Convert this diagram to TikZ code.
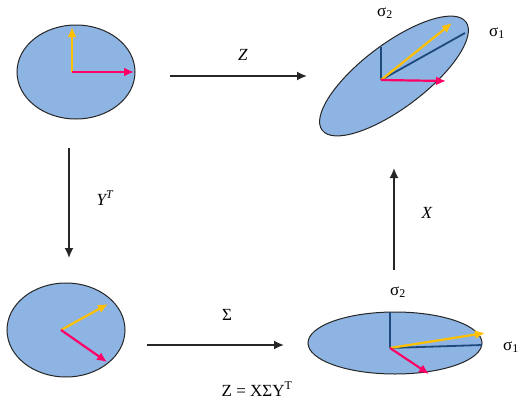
\documentclass[tikz,border=0pt]{standalone}
\usepackage{fontspec}
\setmainfont{Liberation Serif}
\usetikzlibrary{shapes.geometric, arrows.meta, positioning}

\definecolor{discblue}{RGB}{141,180,226}
\definecolor{vyellow}{RGB}{255,192,0}
\definecolor{vpink}{RGB}{255,0,102}
\definecolor{axblue}{RGB}{31,73,125}

\begin{document}
\begin{tikzpicture}[
    x=1pt, y=-1pt,
    disc/.style = {ellipse, draw=black!85, fill=discblue, line width=1pt, inner sep=0pt},
    map/.style = {-{Latex[length=10pt,width=9pt]}, line width=1.7pt, draw=black!85},
    vecy/.style = {-{Latex[length=10pt,width=9pt]}, line width=2.2pt, draw=vyellow},
    vecp/.style = {-{Latex[length=10pt,width=9pt]}, line width=2.2pt, draw=vpink},
    axis/.style = {line width=1.8pt, draw=axblue},
    lbl/.style = {font=\fontsize{17}{19}\selectfont, inner sep=1pt}
]
\useasboundingbox (0,0) rectangle (520,402);

% The four ellipses
\node[disc, minimum width=118pt, minimum height=94pt] (start) at (76,72) {};
\node[disc, minimum width=180pt, minimum height=64pt, rotate=37] (final) at (394,76) {};
\node[disc, minimum width=118pt, minimum height=94pt] (rot) at (66,330) {};
\node[disc, minimum width=174pt, minimum height=62pt] (stretch) at (395,343) {};

% Origins of the vectors
\coordinate (o1) at (72,72);
\coordinate (o2) at (381,80);
\coordinate (o3) at (61,330);
\coordinate (o4) at (390,348);

% Vectors in the unit disc
\draw[vecy] (o1) -- (72,27);
\draw[vecp] (o1) -- (134,72);

% Vectors after Y^T
\draw[vecy] (o3) -- (108,304);
\draw[vecp] (o3) -- (107,362);

% Vectors after Sigma, with the axes
\draw[axis] (o4) -- (482,345);
\draw[axis] (o4) -- (390,312);
\draw[vecy] (o4) -- (485,333);
\draw[vecp] (o4) -- (429,374);
\node[lbl] (s2b) at (398,292) {σ\textsubscript{2}};
\node[lbl] (s1b) at (511,347) {σ\textsubscript{1}};

% Vectors after X, with the axes
\draw[axis] (o2) -- (465,33);
\draw[axis] (o2) -- (381,47);
\draw[vecy] (o2) -- (452,23);
\draw[vecp] (o2) -- (446,81);
\node[lbl] (s2t) at (385,13) {σ\textsubscript{2}};
\node[lbl] (s1t) at (497,33) {σ\textsubscript{1}};

% Maps between the pictures
\coordinate (zfrom) at (170,76);
\coordinate (zto) at (307,76);
\coordinate (yfrom) at (69,148);
\coordinate (yto) at (69,258);
\coordinate (sfrom) at (147,345);
\coordinate (sto) at (284,345);
\coordinate (xfrom) at (394,270);
\coordinate (xto) at (394,168);

\draw[map] (zfrom) -- (zto);
\draw[map] (yfrom) -- (yto);
\draw[map] (sfrom) -- (sto);
\draw[map] (xfrom) -- (xto);

\node[lbl] (zlbl) at (243,55) {\textit{Z}};
\node[lbl] (ylbl) at (105,198) {\textit{Y\textsuperscript{T}}};
\node[lbl] (slbl) at (227,315) {Σ};
\node[lbl] (xlbl) at (427,213) {\textit{X}};
\node[lbl] (svd) at (257,389) {Z = XΣY\textsuperscript{T}};

\end{tikzpicture}
\end{document}
